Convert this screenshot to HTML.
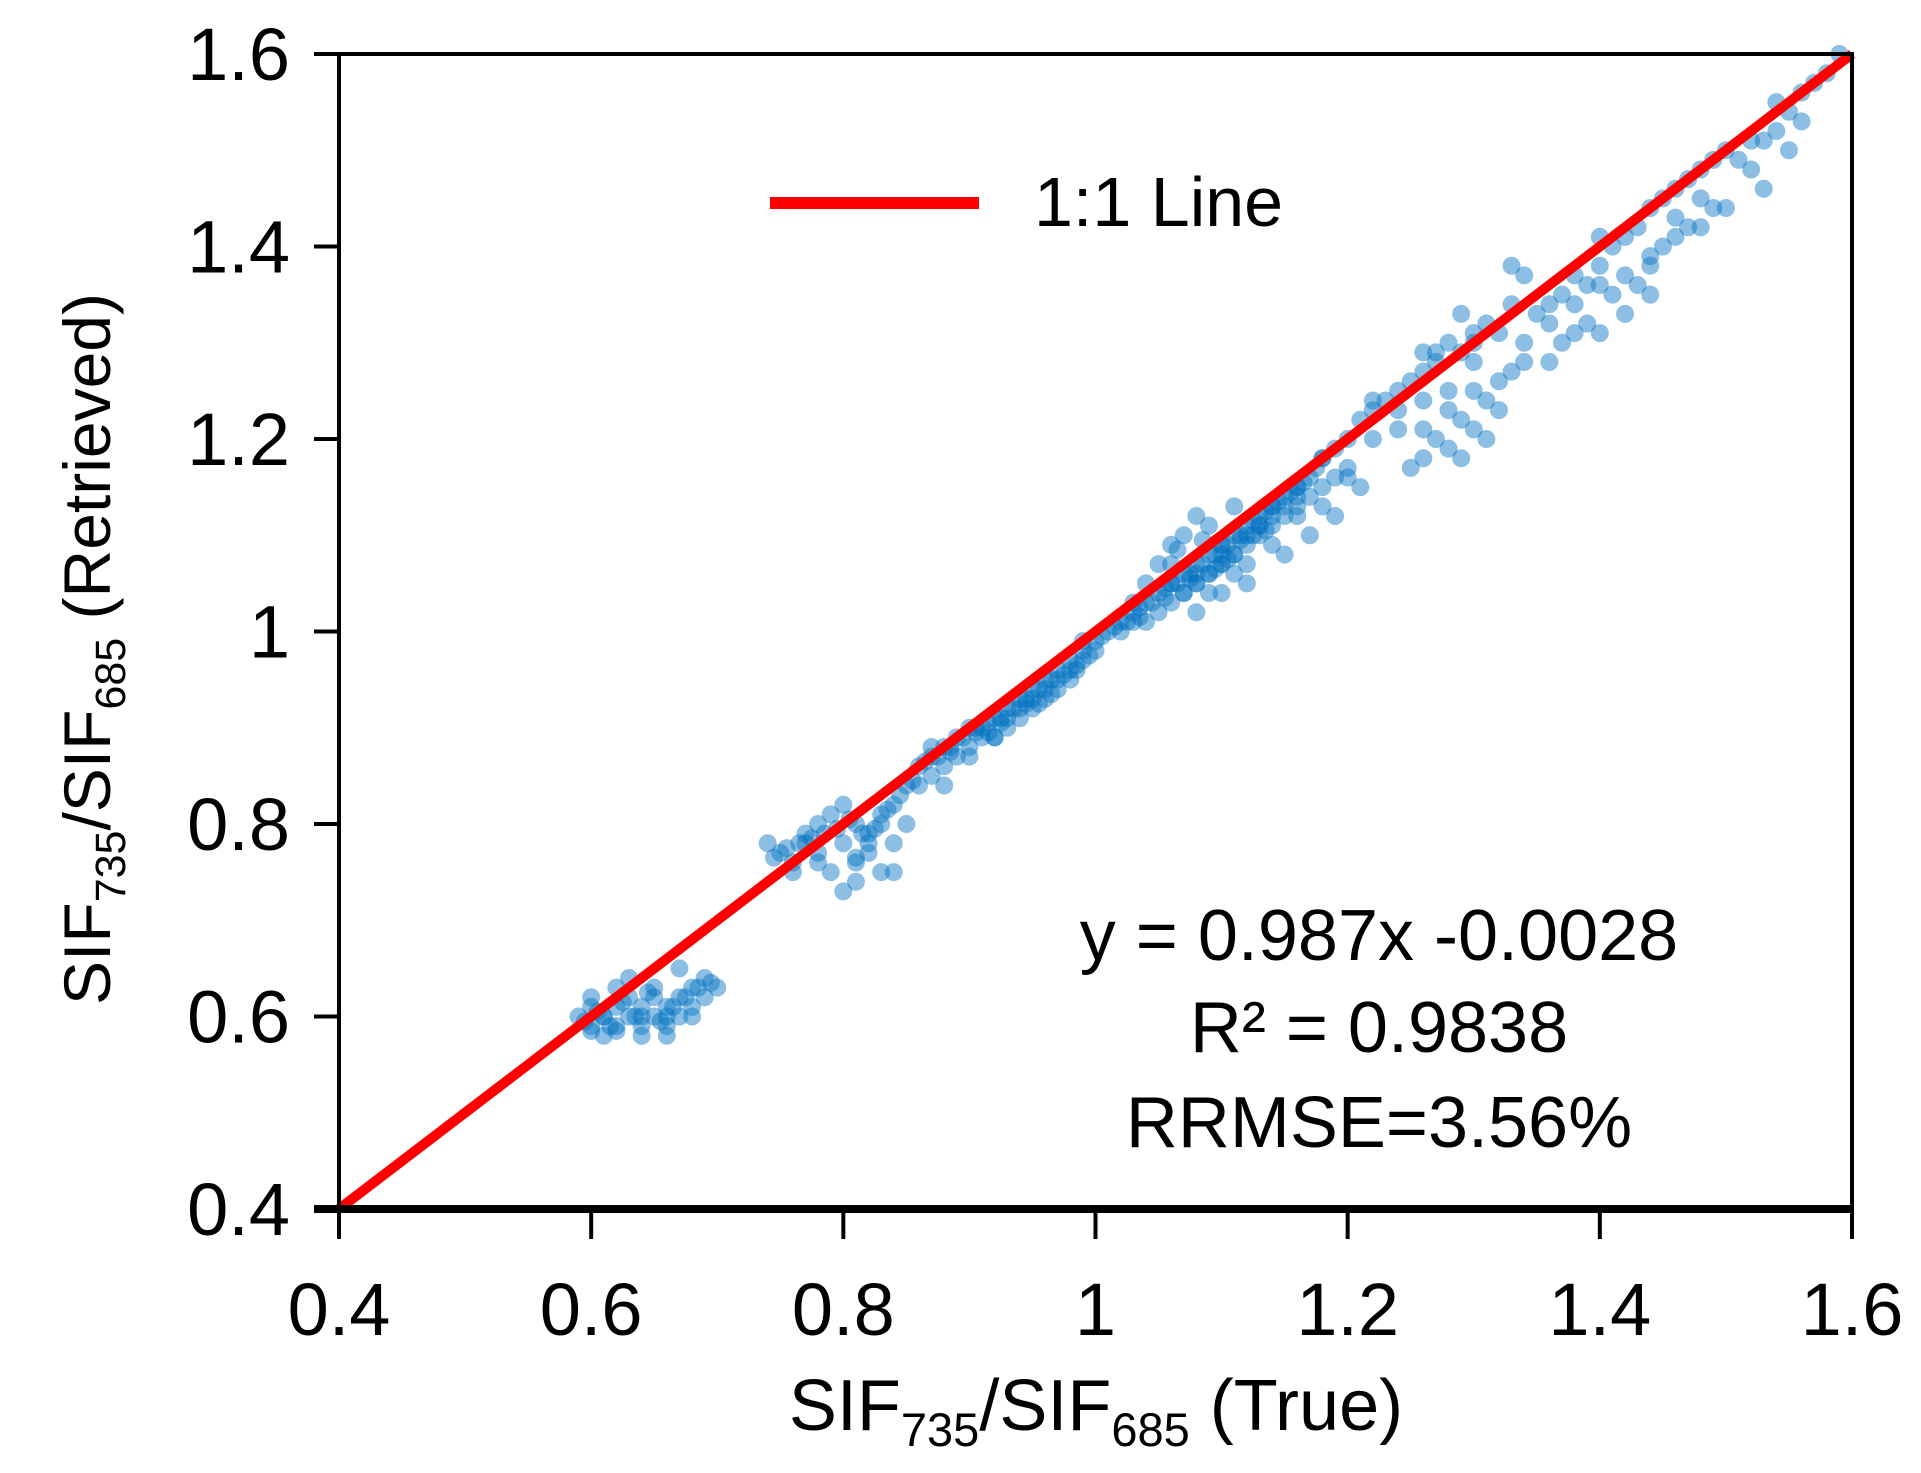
<!DOCTYPE html>
<html><head><meta charset="utf-8"><style>
html,body{margin:0;padding:0;background:#fff}
svg{display:block;font-family:"Liberation Sans","DejaVu Sans",sans-serif}
</style></head><body>
<svg id="chart" width="1921" height="1473" viewBox="0 0 1921 1473" xmlns="http://www.w3.org/2000/svg">
<g id="points"></g>
<g id="lineg"></g>
<g id="axes"></g>
<g>
  <line x1="770" y1="203" x2="979" y2="203" stroke="#ff0000" stroke-width="12"/>
  <text x="1034" y="226" font-size="70" fill="#000">1:1 Line</text>
</g>
<g font-size="72" fill="#000" text-anchor="middle">
  <text x="1379" y="960">y = 0.987x -0.0028</text>
  <text x="1379" y="1052">R² = 0.9838</text>
  <text x="1379" y="1147">RRMSE=3.56%</text>
</g>
<text x="1096" y="1430" font-size="72" text-anchor="middle">SIF<tspan font-size="47" dy="16">735</tspan><tspan dy="-16">/SIF</tspan><tspan font-size="47" dy="16">685</tspan><tspan dy="-16"> (True)</tspan></text>
<text transform="translate(110,649) rotate(-90)" font-size="66" text-anchor="middle">SIF<tspan font-size="43" dy="15">735</tspan><tspan dy="-15">/SIF</tspan><tspan font-size="43" dy="15">685</tspan><tspan dy="-15"> (Retrieved)</tspan></text>
</svg>
<script>
const xTicks = [0.4, 0.6, 0.8, 1.0, 1.2, 1.4, 1.6];
const yTicks = [0.4, 0.6, 0.8, 1.0, 1.2, 1.4, 1.6];
const xTickLabels = ["0.4","0.6","0.8","1","1.2","1.4","1.6"];
const yTickLabels = ["0.4","0.6","0.8","1","1.2","1.4","1.6"];
const oneToOne = [0.4, 1.6];
const trueVals = [
.59,.60,.60,.61,.61,.62,.62,.63,.63,.64,.64,.65,.65,.66,.66,.67,.67,.68,.68,.69,.69,.70,.60,.62,.64,.66,.68,.61,.63,.65,.67,
.74,.75,.76,.77,.78,.78,.79,.80,.80,.81,.81,.82,.82,.83,.83,.84,.84,.85,.80,.79,.81,.82,.76,.77,.85,.86,.84,.83,
.86,.87,.87,.88,.88,.89,.89,.90,.90,.91,.91,.92,.92,.93,.93,.94,.94,.95,.95,.96,.96,.97,.97,.98,.98,.99,.99,1.0,1.0,.88,.90,.92,.94,.96,.98,.87,.93,.95,.97,.99,
1.01,1.02,1.02,1.03,1.03,1.04,1.04,1.05,1.05,1.06,1.06,1.07,1.07,1.08,1.08,1.09,1.09,1.10,1.10,1.11,1.11,1.12,1.12,1.13,1.13,1.14,1.14,1.15,1.15,1.16,1.16,1.17,1.18,1.05,1.07,1.09,1.04,1.06,1.08,1.10,1.03,1.06,1.08,1.11,
1.07,1.08,1.09,1.10,1.11,1.12,1.13,1.14,1.15,1.16,1.17,1.18,1.19,1.20,1.09,1.11,1.13,1.15,1.17,1.19,1.21,1.12,1.14,1.16,1.18,1.08,1.10,
1.19,1.20,1.21,1.22,1.23,1.24,1.25,1.26,1.27,1.28,1.29,1.30,1.31,1.32,1.33,1.34,1.22,1.24,1.27,1.30,1.33,1.26,1.29,
1.25,1.26,1.27,1.28,1.29,1.30,1.31,1.32,1.33,1.26,1.28,1.30,1.32,1.34,1.29,1.31,
1.35,1.36,1.37,1.38,1.39,1.40,1.41,1.42,1.43,1.44,1.45,1.46,1.47,1.48,1.49,1.50,1.37,1.39,1.41,1.43,1.45,1.47,1.49,1.36,1.38,1.40,1.42,1.44,1.46,1.48,1.40,1.44,
1.51,1.52,1.53,1.54,1.55,1.56,1.57,1.58,1.59,1.52,1.54,1.56,1.53,1.55,
.595,.605,.615,.625,.635,.645,.655,.665,.675,.685,.695,.60,.62,.64,.66,
.745,.755,.765,.775,.785,.795,.805,.815,.825,.835,.845,.855,.78,.81,
.865,.875,.885,.895,.905,.915,.925,.935,.945,.955,.965,.975,.985,.995,.885,.905,.925,.945,.965,.985,.915,.955,
1.005,1.015,1.025,1.035,1.045,1.055,1.065,1.075,1.085,1.095,1.105,1.115,1.125,1.135,1.145,1.155,1.165,1.175,1.035,1.055,1.075,1.095,1.115,1.135,1.065,1.085,1.105,1.125,
1.06,1.10,1.12,1.14,1.16,1.18,1.20,1.22,1.24,1.26,1.28,1.30,1.34,1.36,1.38,1.40,1.42,1.44,1.46,1.48,1.50
];
const retrievedVals = [
.60,.59,.61,.58,.60,.61,.59,.62,.60,.61,.58,.62,.60,.59,.61,.62,.60,.63,.61,.64,.62,.63,.62,.63,.59,.58,.60,.60,.64,.63,.65,
.78,.77,.76,.79,.80,.77,.81,.82,.78,.80,.76,.79,.77,.75,.80,.78,.82,.84,.73,.75,.74,.78,.75,.78,.80,.84,.75,.81,
.86,.87,.85,.88,.86,.89,.87,.90,.88,.90,.89,.91,.89,.92,.90,.93,.91,.94,.93,.95,.94,.96,.95,.97,.96,.98,.97,.99,.98,.84,.87,.89,.92,.93,.95,.88,.91,.92,.94,.99,
1.00,1.01,1.00,1.02,1.01,1.03,1.01,1.04,1.02,1.05,1.03,1.06,1.04,1.07,1.05,1.08,1.06,1.09,1.07,1.10,1.08,1.11,1.10,1.12,1.11,1.13,1.12,1.14,1.13,1.15,1.14,1.16,1.18,1.07,1.10,1.11,1.05,1.07,1.02,1.04,1.03,1.09,1.12,1.13,
1.04,1.05,1.06,1.07,1.08,1.09,1.10,1.11,1.12,1.13,1.14,1.15,1.16,1.17,1.04,1.06,1.11,1.08,1.10,1.12,1.15,1.07,1.13,1.15,1.18,1.06,1.09,
1.19,1.20,1.22,1.23,1.24,1.25,1.26,1.27,1.29,1.30,1.29,1.30,1.32,1.31,1.34,1.37,1.24,1.23,1.28,1.31,1.38,1.29,1.33,
1.17,1.18,1.20,1.19,1.22,1.21,1.24,1.23,1.27,1.21,1.23,1.25,1.26,1.28,1.18,1.20,
1.33,1.34,1.35,1.37,1.36,1.38,1.40,1.41,1.42,1.44,1.45,1.46,1.47,1.48,1.49,1.50,1.30,1.32,1.35,1.36,1.40,1.42,1.44,1.28,1.31,1.41,1.33,1.38,1.43,1.45,1.31,1.35,
1.49,1.48,1.51,1.52,1.54,1.53,1.57,1.58,1.60,1.51,1.55,1.56,1.46,1.50,
.595,.605,.59,.615,.60,.625,.595,.61,.62,.63,.635,.585,.585,.60,.60,
.765,.775,.78,.785,.79,.795,.805,.79,.795,.815,.83,.845,.76,.765,
.865,.87,.88,.89,.895,.905,.91,.92,.93,.94,.95,.955,.965,.975,.875,.90,.905,.925,.935,.96,.895,.925,
.995,1.005,1.01,1.025,1.03,1.045,1.05,1.06,1.07,1.08,1.09,1.10,1.115,1.125,1.135,1.145,1.155,1.17,1.015,1.035,1.055,1.065,1.095,1.105,1.085,1.095,1.075,1.10,
1.05,1.08,1.05,1.09,1.12,1.13,1.16,1.20,1.21,1.24,1.25,1.28,1.30,1.32,1.34,1.36,1.37,1.39,1.41,1.42,1.44
];
const NS = "http://www.w3.org/2000/svg";
const L = 339, R = 1852, T = 54, B = 1209;
function xs(v){ return L + (v - 0.4) / 1.2 * (R - L); }
function ys(v){ return B - (v - 0.4) / 1.2 * (B - T); }
function mk(tag, attrs, parent){
  const e = document.createElementNS(NS, tag);
  for (const k in attrs) e.setAttribute(k, attrs[k]);
  parent.appendChild(e);
  return e;
}
const pg = document.getElementById('points');
for (let i = 0; i < trueVals.length; i++) {
  const c = mk('circle', {cx: xs(trueVals[i]), cy: ys(retrievedVals[i]), r: 9, fill: '#0070c0', 'fill-opacity': 0.45}, pg);
  
  
}
const lg = document.getElementById('lineg');
const ln = mk('line', {x1: xs(oneToOne[0]), y1: ys(oneToOne[0]), x2: xs(oneToOne[1]), y2: ys(oneToOne[1]), stroke: '#ff0000', 'stroke-width': 10}, lg);


const ax = document.getElementById('axes');
const frame = mk('rect', {x: L, y: T, width: R - L, height: B - T, fill: 'none', stroke: '#000', 'stroke-width': 4}, ax);


const xl = mk('line', {x1: L - 25, y1: B, x2: R, y2: B, stroke: '#000', 'stroke-width': 8}, ax);


xTicks.forEach((v, i) => {
  const t = mk('line', {x1: xs(v), y1: B, x2: xs(v), y2: B + 30, stroke: '#000', 'stroke-width': 4}, ax);
  
  
  const tx = mk('text', {x: xs(v), y: 1335, 'font-size': 74, 'text-anchor': 'middle'}, ax);
  tx.textContent = xTickLabels[i];
  
  
});
yTicks.forEach((v, i) => {
  const t = mk('line', {x1: L - 25, y1: ys(v), x2: L, y2: ys(v), stroke: '#000', 'stroke-width': 4}, ax);
  
  
  const tx = mk('text', {x: 290, y: ys(v) + 26, 'font-size': 74, 'text-anchor': 'end'}, ax);
  tx.textContent = yTickLabels[i];
  
  
});
</script>
</body></html>
